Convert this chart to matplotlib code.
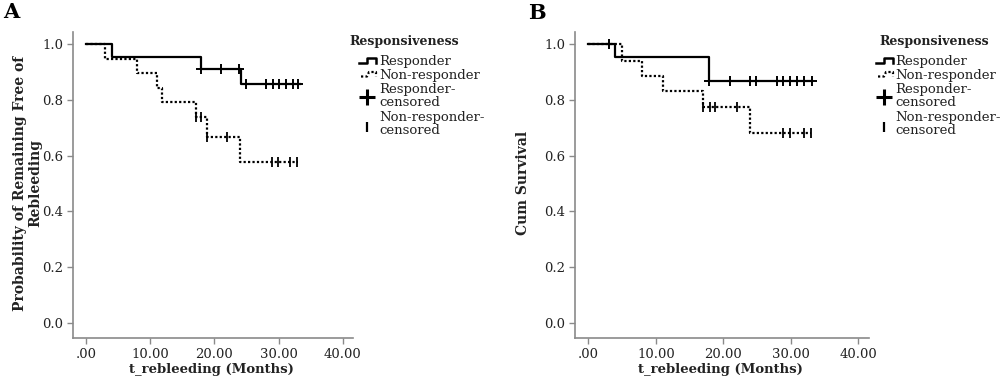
import matplotlib
matplotlib.use('Agg')
import matplotlib.pyplot as plt
import numpy as np

# ---------------- data ----------------
# Panel A
a_resp_t = [0, 4.1, 17.9, 24.1, 33.3]
a_resp_s = [1.0, 0.956, 0.910, 0.857, 0.857]
a_resp_cens = [17.9, 21.0, 23.9, 24.9, 28.0, 29.1, 30.1, 31.2, 32.2, 33.1]
a_non_t = [0, 3.0, 8.0, 11.1, 11.9, 17.1, 18.9, 24.0, 33.0]
a_non_s = [1.0, 0.946, 0.896, 0.842, 0.794, 0.738, 0.668, 0.577, 0.577]
a_non_cens = [17.1, 17.9, 18.9, 22.0, 29.0, 29.9, 31.8, 32.9]

# Panel B
b_resp_t = [0, 3.9, 17.9, 33.2]
b_resp_s = [1.0, 0.953, 0.868, 0.868]
b_resp_cens = [3.0, 17.9, 21.0, 23.9, 24.9, 27.9, 28.9, 29.9, 30.9, 31.9, 33.2]
b_non_t = [0, 4.9, 7.9, 11.0, 17.0, 24.0, 33.0]
b_non_s = [1.0, 0.941, 0.886, 0.832, 0.774, 0.681, 0.681]
b_non_cens = [17.0, 18.0, 18.75, 22.0, 28.9, 29.9, 32.0, 33.0]

x_ticks = [0, 10, 20, 30, 40]
x_tick_labels = ['.00', '10.00', '20.00', '30.00', '40.00']
y_ticks = [0.0, 0.2, 0.4, 0.6, 0.8, 1.0]
y_tick_labels = ['0.0', '0.2', '0.4', '0.6', '0.8', '1.0']

legend_title = 'Responsiveness'
legend_labels = ['Responder', 'Non-responder', 'Responder-\ncensored', 'Non-responder-\ncensored']
xlabel = 't_rebleeding (Months)'
ylabel_a = 'Probability of Remaining Free of\nRebleeding'
ylabel_b = 'Cum Survival'

FONT = 'DejaVu Serif'
plt.rcParams['font.family'] = [FONT]
SPINE = '#8a8a8a'
TXT = '#222222'

W, H = 1000, 384
fig = plt.figure(figsize=(10, 3.84), dpi=100)


def px(x, y):
    return x / W, 1 - y / H


def step_val(ts, ss, t):
    idx = np.searchsorted(ts, t, side='right') - 1
    return ss[idx]


def make_axes(left_px, right_px):
    l, _ = px(left_px, 0)
    r, _ = px(right_px, 0)
    _, b = px(0, 338)
    _, t = px(0, 32)
    ax = fig.add_axes([l, b, r - l, t - b])
    ax.set_xlim(-2.0, 41.6)
    ax.set_ylim(-0.054, 1.044)
    for s in ['top', 'right']:
        ax.spines[s].set_visible(False)
    for s in ['left', 'bottom']:
        ax.spines[s].set_color(SPINE)
        ax.spines[s].set_linewidth(1.2)
    ax.set_xticks(x_ticks)
    ax.set_xticklabels(x_tick_labels)
    ax.set_yticks(y_ticks)
    ax.set_yticklabels(y_tick_labels)
    ax.tick_params(axis='both', colors=SPINE, labelcolor=TXT, labelsize=9.5,
                   length=4, width=1, pad=3)
    return ax


def draw_km(ax, rt, rs, rc, nt, ns, nc):
    ax.plot(nt, ns, drawstyle='steps-post', color='black', lw=1.6,
            linestyle=(0, (1, 1)), zorder=2)
    ax.plot(rt, rs, drawstyle='steps-post', color='black', lw=1.6, zorder=3)
    ax.plot(rc, [step_val(rt, rs, t) for t in rc], linestyle='none',
            marker='+', color='black', ms=7, mew=1.4, zorder=4)
    ax.plot(nc, [step_val(nt, ns, t) for t in nc], linestyle='none',
            marker='|', color='black', ms=7, mew=1.3, zorder=4)


axA = make_axes(73, 353)
draw_km(axA, a_resp_t, a_resp_s, a_resp_cens, a_non_t, a_non_s, a_non_cens)
axB = make_axes(575, 869)
draw_km(axB, b_resp_t, b_resp_s, b_resp_cens, b_non_t, b_non_s, b_non_cens)

# x labels
for cx in (211, 720):
    x, y = px(cx, 369)
    fig.text(x, y, xlabel, ha='center', va='center', fontsize=9.5,
             fontweight='bold', color=TXT)

# y labels
x, y = px(28, 183)
fig.text(x, y, ylabel_a, ha='center', va='center', rotation=90, fontsize=10,
         fontweight='bold', color=TXT, multialignment='center', linespacing=1.1)
x, y = px(523, 183)
fig.text(x, y, ylabel_b, ha='center', va='center', rotation=90, fontsize=10,
         fontweight='bold', color=TXT)

# panel letters
x, y = px(3, 12)
fig.text(x, y, 'A', ha='left', va='center', fontsize=15, fontweight='bold', color='black')
x, y = px(528, 13)
fig.text(x, y, 'B', ha='left', va='center', fontsize=15, fontweight='bold', color='black')


def fig_line(xs, ys, **kw):
    fx = [v / W for v in xs]
    fy = [1 - v / H for v in ys]
    fig.add_artist(plt.Line2D(fx, fy, transform=fig.transFigure, **kw))


def legend(title_x, icon_x, text_x):
    x, y = px(title_x, 41.7)
    fig.text(x, y, legend_title, ha='left', va='center', fontsize=9,
             fontweight='bold', color=TXT)
    # responder icon
    fig_line([icon_x, icon_x + 8, icon_x + 8, icon_x + 17, icon_x + 17],
             [63.3, 63.3, 58.3, 58.3, 63.3], color='black', lw=1.8)
    # non-responder icon
    fig_line([icon_x + 2, icon_x + 8, icon_x + 10, icon_x + 17, icon_x + 17],
             [76.5, 76.5, 72, 72, 76.5], color='black', lw=1.6,
             linestyle=(0, (1, 1)))
    # censored icons
    fig_line([icon_x + 7.5], [96.7], color='black', marker='+', ms=11, mew=2.2,
             linestyle='none')
    fig_line([icon_x + 8], [127], color='black', marker='|', ms=7, mew=1.6,
             linestyle='none')
    ys = [61.5, 75, 95.5, 123.5]
    for lab, yy in zip(legend_labels, ys):
        x, y = px(text_x, yy)
        fig.text(x, y, lab, ha='left', va='center', fontsize=9.5, color=TXT,
                 linespacing=1.0)


legend(349, 359, 379)
legend(879, 876, 895)

fig.savefig('out.png', dpi=100)
